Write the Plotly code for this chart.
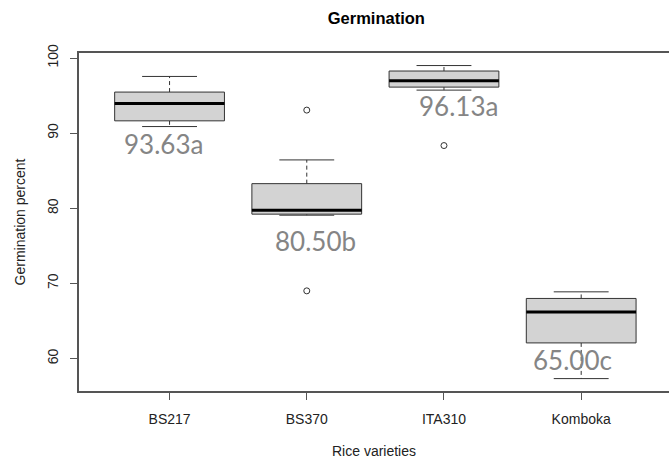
import plotly.graph_objects as go

# ---- data ----
categories = ["BS217", "BS370", "ITA310", "Komboka"]
upper_whisker = [97.55, 86.44, 99.00, 68.88]
q3 = [95.47, 83.28, 98.27, 68.00]
median = [93.95, 79.75, 96.97, 66.21]
q1 = [91.64, 79.22, 96.13, 62.08]
lower_whisker = [90.88, 79.08, 95.73, 57.33]
outlier_group = [1, 1, 2]
outlier_values = [93.07, 69.01, 88.35]
mean_labels = ["93.63a", "80.50b", "96.13a", "65.00c"]

# ---- layout constants ----
BOX_HALF = 0.4
CAP_HALF = 0.2
label_dx = [-0.047, 0.064, 0.108, -0.066]
label_y = [88.57, 75.68, 93.68, 59.87]
EDGE = "#333333"
AXIS = "#555555"

pos = list(range(len(categories)))

box_x, box_y = [], []
med_x, med_y = [], []
wh_x, wh_y = [], []
cap_x, cap_y = [], []
for i in pos:
    l, r = i - BOX_HALF, i + BOX_HALF
    box_x += [l, r, r, l, l, None]
    box_y += [q1[i], q1[i], q3[i], q3[i], q1[i], None]
    med_x += [l, r, None]
    med_y += [median[i], median[i], None]
    wh_x += [i, i, None, i, i, None]
    wh_y += [q3[i], upper_whisker[i], None, q1[i], lower_whisker[i], None]
    cap_x += [i - CAP_HALF, i + CAP_HALF, None, i - CAP_HALF, i + CAP_HALF, None]
    cap_y += [upper_whisker[i], upper_whisker[i], None, lower_whisker[i], lower_whisker[i], None]

fig = go.Figure()
fig.add_trace(go.Scatter(x=wh_x, y=wh_y, mode="lines",
                         line=dict(color=EDGE, width=1, dash="4px,3px"), hoverinfo="skip"))
fig.add_trace(go.Scatter(x=cap_x, y=cap_y, mode="lines",
                         line=dict(color=EDGE, width=1), hoverinfo="skip"))
fig.add_trace(go.Scatter(x=box_x, y=box_y, mode="lines", fill="toself",
                         fillcolor="#D3D3D3", line=dict(color=EDGE, width=1)))
fig.add_trace(go.Scatter(x=med_x, y=med_y, mode="lines",
                         line=dict(color="black", width=3)))
fig.add_trace(go.Scatter(x=outlier_group, y=outlier_values, mode="markers",
                         marker=dict(symbol="circle-open", size=6, color=EDGE,
                                     line=dict(width=1))))

for i in pos:
    fig.add_annotation(x=i + label_dx[i], y=label_y[i], text=mean_labels[i],
                       showarrow=False, xref="x", yref="y",
                       font=dict(family="Lato", size=26, color="#858585"))

fig.update_layout(
    width=669, height=462,
    margin=dict(l=79, r=0, t=53, b=71),
    paper_bgcolor="white", plot_bgcolor="white",
    showlegend=False,
    font=dict(family="Liberation Sans, Arial", size=14, color="#222222"),
    title=dict(text="<b>Germination</b>", x=0.5625, xanchor="center",
               y=1 - 18.5 / 462, yanchor="middle", yref="container",
               font=dict(size=16.5, color="black")),
)
fig.update_xaxes(
    range=[-0.66, 3.64], tickvals=pos, ticktext=categories,
    showgrid=False, zeroline=False, showline=True, linecolor=AXIS, linewidth=1.5,
    mirror=True, ticks="outside", ticklen=7, tickcolor=AXIS,
    ticklabelstandoff=7,
    title=dict(text="Rice varieties", standoff=21, font=dict(size=14)),
)
fig.update_yaxes(
    range=[55.68, 100.67], tickvals=[60, 70, 80, 90, 100],
    showgrid=False, zeroline=False, showline=True, linecolor=AXIS, linewidth=1.5,
    ticks="outside", ticklen=7, tickcolor=AXIS, tickangle=-90,
    ticklabelstandoff=7,
    title=dict(text="Germination percent", standoff=16, font=dict(size=14)),
)

fig.write_html("out.html")
